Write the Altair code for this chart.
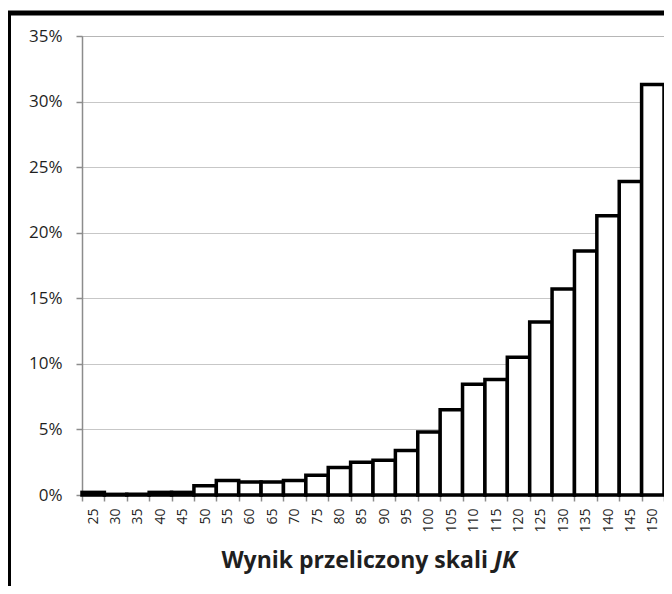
import altair as alt
import pandas as pd

# Data
categories = [25, 30, 35, 40, 45, 50, 55, 60, 65, 70, 75, 80, 85, 90, 95,
              100, 105, 110, 115, 120, 125, 130, 135, 140, 145, 150]
percent_values = [0.2, 0.05, 0.05, 0.2, 0.2, 0.7, 1.1, 1.0, 1.0, 1.1, 1.5, 2.1,
                  2.5, 2.65, 3.4, 4.8, 6.5, 8.45, 8.8, 10.5, 13.2, 15.7, 18.6,
                  21.3, 23.9, 31.3]
y_ticks = [0, 0.05, 0.10, 0.15, 0.20, 0.25, 0.30, 0.35]
title_main = "Wynik przeliczony skali"
title_italic = "JK"

df = pd.DataFrame({
    "wynik": [str(c) for c in categories],
    "udzial": [v / 100 for v in percent_values],
})
one = pd.DataFrame({"k": [0]})

FONT = "Open Sans"
GRAY = "#8c8c8c"
TXT = "#1f1f1f"

bars = alt.Chart(df).mark_bar(
    fill="white", stroke="black", strokeWidth=3.5
).encode(
    x=alt.X(
        "wynik:N",
        sort=[str(c) for c in categories],
        scale=alt.Scale(paddingInner=0, paddingOuter=0),
        axis=alt.Axis(
            title=None, labelAngle=270, labelAlign="right", labelBaseline="middle",
            labelFontSize=14, labelFont=FONT, labelColor=TXT, labelPadding=7,
            tickBand="extent", tickColor=GRAY, tickSize=6, tickWidth=1.5,
            domainColor=GRAY, domainWidth=1.5, grid=False,
        ),
    ),
    y=alt.Y(
        "udzial:Q",
        scale=alt.Scale(domain=[0, 0.35], nice=False),
        axis=alt.Axis(
            title=None, values=y_ticks, format=".0%",
            labelFontSize=17, labelFont=FONT, labelColor=TXT, labelPadding=14,
            tickColor=GRAY, tickSize=6, tickWidth=1.5,
            domainColor=GRAY, domainWidth=1.5,
            grid=True, gridColor="#8f8f8f", gridDash=[1, 1], gridWidth=1,
        ),
    ),
)

frame = alt.Chart(one).mark_rect(
    filled=False, stroke="black", strokeWidth=5
).encode(
    x=alt.value(-73.5), x2=alt.value(700),
    y=alt.value(-23), y2=alt.value(700),
)

t1 = alt.Chart(one).mark_text(
    text=title_main, font=FONT, fontSize=23, fontWeight="bold",
    color=TXT, align="right", baseline="alphabetic",
).encode(x=alt.value(406), y=alt.value(532))

t2 = alt.Chart(one).mark_text(
    text=title_italic, font=FONT, fontSize=24, fontWeight="bold", fontStyle="italic",
    color=TXT, align="left", baseline="alphabetic",
).encode(x=alt.value(412), y=alt.value(532))

chart = alt.layer(bars, frame, t1, t2).properties(
    width=582, height=459,
    autosize=alt.AutoSizeParams(type="none"),
    padding={"left": 74, "top": 28, "right": 0, "bottom": 91},
).configure_view(stroke=None).configure(background="white")

chart.save("out.html", embed_options={"renderer": "svg", "actions": False})
